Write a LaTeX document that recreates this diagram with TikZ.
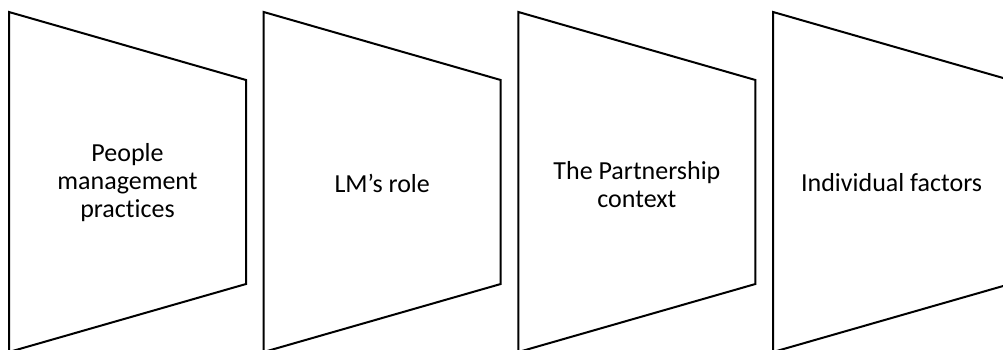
\documentclass[tikz,border=0pt]{standalone}
\usepackage{fontspec}
\setmainfont{Carlito}[Ligatures=NoCommon]
\tikzset{
  panel/.style={draw=black, line width=2pt, line join=miter, fill=white},
  lbl/.style={align=center, font=\fontsize{26}{28}\selectfont, inner sep=0pt}
}
\begin{document}
\begin{tikzpicture}[x=1pt,y=-1pt]
\useasboundingbox (0,0) rectangle (1003,349);
\clip (0,0) rectangle (1003,349);
\foreach \i in {0,1,2,3}{
  \pgfmathsetmacro{\xl}{9+254.7*\i}
  \pgfmathsetmacro{\xr}{\xl+237}
  \draw[panel] (\xl,12) -- (\xr,80) -- (\xr,284) -- (\xl,352) -- cycle;
}
\node[lbl] (t1) at (127.5,183) {People\\management\\practices};
\node[lbl] (t2) at (382.2,183) {LM’s role};
\node[lbl] (t3) at (636.9,185) {The Partnership\\context};
\node[lbl] (t4) at (891.6,183) {Individual factors};
\end{tikzpicture}
\end{document}
